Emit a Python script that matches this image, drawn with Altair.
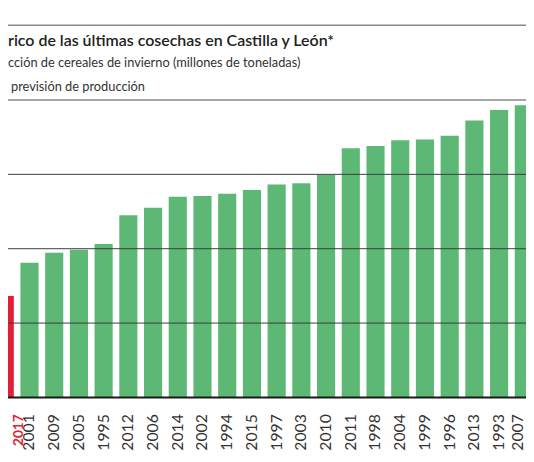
import altair as alt
import pandas as pd

# --- data ---
years = ["2017", "2001", "2009", "2005", "1995", "2012", "2006", "2014", "2002", "1994", "2015",
         "1997", "2003", "2010", "2011", "1998", "2004", "1999", "1996", "2013", "1993", "2007"]
values = [2.73, 3.62, 3.89, 3.97, 4.13, 4.90, 5.10, 5.40, 5.42, 5.48, 5.58,
          5.73, 5.76, 5.99, 6.70, 6.76, 6.92, 6.94, 7.04, 7.45, 7.73, 7.86]
highlight = "2017"
grid_values = [2, 4, 6]
title_text = "rico de las últimas cosechas en Castilla y León*"
subtitle_text = "cción de cereales de invierno (millones de toneladas)"
legend_text = "previsión de producción"

RED = "#e31e36"
GREEN = "#5cb874"
FONT = "Lato"
W, H = 526, 302

df = pd.DataFrame({"year": years, "value": values, "i": list(range(len(years)))})

xscale = alt.Scale(domain=[0.131, 21.088], nice=False, zero=False, padding=0)
yscale = alt.Scale(domain=[0, 8], nice=False)

base = alt.Chart(df)

bars = base.mark_bar(size=18.4, clip=True).encode(
    x=alt.X("i:Q", scale=xscale, axis=None),
    y=alt.Y("value:Q", scale=yscale, axis=None),
    color=alt.when(alt.datum.year == highlight).then(alt.value(RED)).otherwise(alt.value(GREEN)),
)

grid = alt.Chart(pd.DataFrame({"g": grid_values})).mark_rule(
    color="#3c3c3c", strokeWidth=1
).encode(y=alt.Y("g:Q", scale=yscale, axis=None))

baseline = alt.Chart(pd.DataFrame({"g": [0]})).mark_rule(
    color="#1a1a1a", strokeWidth=2
).encode(y=alt.Y("g:Q", scale=yscale, axis=None))

header_line = alt.Chart(pd.DataFrame({"k": [0]})).mark_rule(
    color="#8a8a8a", strokeWidth=1.5
).encode(x=alt.value(0), x2=alt.value(W), y=alt.value(0))

top_line = alt.Chart(pd.DataFrame({"k": [0]})).mark_rule(
    color="#8a8a8a", strokeWidth=1.5
).encode(x=alt.value(0), x2=alt.value(W), y=alt.value(-76))

# labels at the two cut-off ends are kept inside the page
label_base = base.transform_calculate(ix="clamp(datum.i, 0.56, 20.76)")

labels = label_base.transform_filter(alt.datum.year != highlight).mark_text(
    angle=270, align="right", baseline="middle", fontSize=16, font=FONT, color="#333333"
).encode(
    x=alt.X("ix:Q", scale=xscale, axis=None),
    y=alt.value(H + 17),
    text="year:N",
)

label_hl = label_base.transform_filter(alt.datum.year == highlight).mark_text(
    angle=270, align="right", baseline="middle", fontSize=14, font=FONT,
    fontWeight="bold", color=RED
).encode(
    x=alt.X("ix:Q", scale=xscale, axis=None),
    y=alt.value(H + 17),
    text="year:N",
)

def header(text, y, size, weight, dx=0, color="#222222"):
    return alt.Chart(pd.DataFrame({"t": [text]})).mark_text(
        align="left", baseline="alphabetic", fontSize=size, font=FONT,
        fontWeight=weight, color=color
    ).encode(text="t:N", x=alt.value(dx), y=alt.value(y))

t1 = header(title_text, -55, 16.2, 600)
t2 = header(subtitle_text, -33.5, 13, "normal", color="#333333")
t3 = header(legend_text, -9.5, 13, "normal", dx=3, color="#333333")

chart = alt.layer(
    bars, grid, baseline, header_line, top_line, labels, label_hl, t1, t2, t3
).properties(
    width=W, height=H,
    padding={"left": 0, "right": 0, "top": 90, "bottom": 52},
    autosize="none",
).configure_view(stroke=None)

chart.save("out.html", embed_options={"renderer": "svg", "actions": False})
